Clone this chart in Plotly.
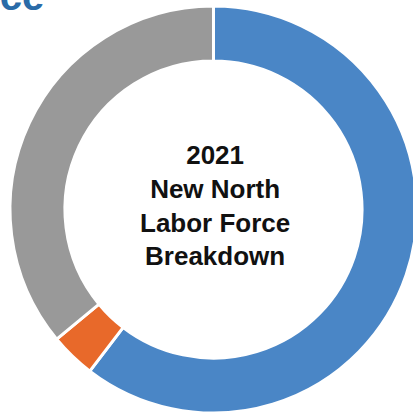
import plotly.graph_objects as go

labels = ["Employed", "Unemployed", "Not in Labor Force"]
values = [60.4, 3.6, 36.0]
colors = ["#4A86C6", "#E8692A", "#999999"]
center_lines = ["2021", "New North", "Labor Force", "Breakdown"]
title_text = "Labor Force"

W, H = 425, 425

fig = go.Figure(go.Pie(
    labels=labels,
    values=values,
    sort=False,
    direction="clockwise",
    rotation=0,
    hole=0.73,
    marker=dict(colors=colors, line=dict(color="white", width=3)),
    textinfo="none",
    hoverinfo="label+percent",
    domain=dict(x=[10 / W, 417 / W], y=[1 - 413 / H, 1 - 6 / H]),
    showlegend=False,
))

fig.add_annotation(
    text="<br>".join("<b>" + s + "</b>" for s in center_lines),
    x=215 / W, y=1 - 205 / H, xref="paper", yref="paper",
    showarrow=False, xanchor="center", yanchor="middle",
    font=dict(family="Liberation Sans, Arial, sans-serif", size=26, color="#111111"),
)
fig.add_annotation(
    text="<b>" + title_text + "</b>", x=46 / W, y=1 + 4 / H, xref="paper", yref="paper",
    showarrow=False, xanchor="right", yanchor="middle",
    font=dict(family="Liberation Sans, Arial, sans-serif", size=40, color="#2A6BA8"),
)

fig.update_layout(
    width=W, height=H,
    margin=dict(l=0, r=0, t=0, b=0),
    paper_bgcolor="white", plot_bgcolor="white",
)

fig.write_html(
    "out.html",
    config={"displayModeBar": False},
    post_script="document.body.style.margin='0';document.body.style.overflow='hidden';",
)
